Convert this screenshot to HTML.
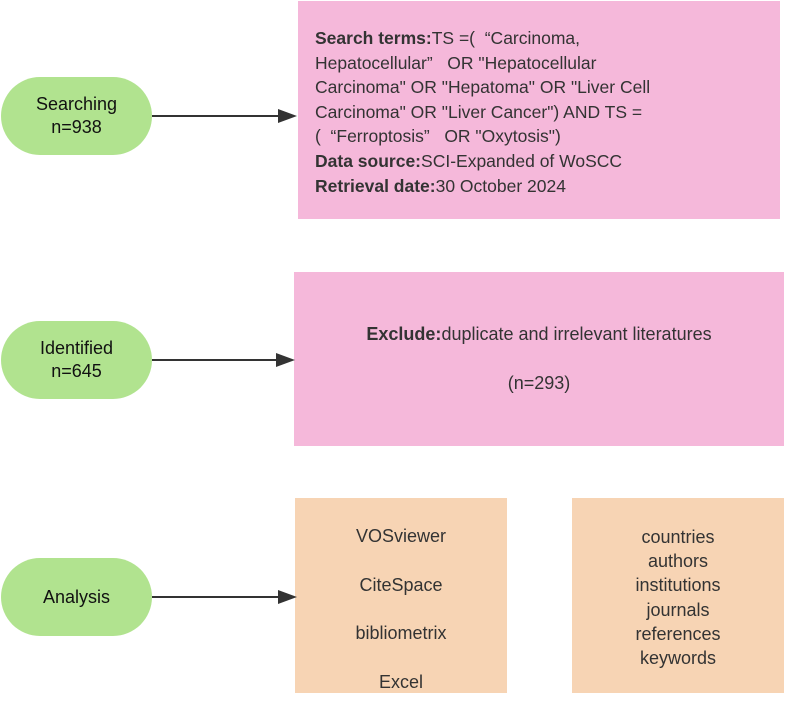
<!DOCTYPE html>
<html><head><meta charset="utf-8"><style>
body{margin:0;width:785px;height:695px;background:#fff;position:relative;overflow:hidden;font-family:"Liberation Sans","Noto Sans CJK SC",sans-serif;color:#333;}
.b{position:absolute;box-sizing:border-box;}
.pink{background:#f5b8da;}
.or{background:#f7d4b4;}
.pill{position:absolute;left:1px;width:151px;height:78px;background:#b1e38f;border-radius:39px;color:#111;font-size:18px;text-align:center;display:flex;align-items:center;justify-content:center;line-height:23px;}
.t{position:absolute;font-size:18px;white-space:nowrap;}
</style></head><body>
<div class="b pink" style="left:298px;top:1px;width:482px;height:218px;"></div>
<div class="t" style="left:315px;top:26px;line-height:24.6px;font-size:17.5px;">
<b>Search terms:</b>TS =(&nbsp; “Carcinoma,<br>Hepatocellular”&nbsp;&nbsp; OR "Hepatocellular<br>Carcinoma" OR "Hepatoma" OR "Liver Cell<br>Carcinoma" OR "Liver Cancer") AND TS =<br>(&nbsp; “Ferroptosis”&nbsp;&nbsp; OR "Oxytosis")<br><b>Data source:</b>SCI-Expanded of WoSCC<br><b>Retrieval date:</b>30 October 2024</div>
<div class="b pink" style="left:294px;top:272px;width:490px;height:174px;"></div>
<div class="t" style="left:294px;width:490px;text-align:center;top:324px;"><b>Exclude:</b>duplicate and irrelevant literatures</div>
<div class="t" style="left:294px;width:490px;text-align:center;top:373px;">(n=293)</div>
<div class="b or" style="left:295px;top:498px;width:212px;height:195px;"></div>
<div class="t" style="left:295px;width:212px;text-align:center;top:512px;line-height:48.7px;">VOSviewer<br>CiteSpace<br>bibliometrix<br>Excel</div>
<div class="b or" style="left:572px;top:498px;width:212px;height:195px;"></div>
<div class="t" style="left:572px;width:212px;text-align:center;top:525px;line-height:24.2px;">countries<br>authors<br>institutions<br>journals<br>references<br>keywords</div>
<div class="pill" style="top:77px;">Searching<br>n=938</div>
<div class="pill" style="top:321px;">Identified<br>n=645</div>
<div class="pill" style="top:558px;">Analysis</div>
<svg width="785" height="695" style="position:absolute;left:0;top:0">
<g stroke="#333" stroke-width="2"><line x1="152" y1="116" x2="282" y2="116"/><line x1="152" y1="360" x2="280" y2="360"/><line x1="152" y1="597" x2="282" y2="597"/></g>
<g fill="#333"><polygon points="278,109 297,116 278,123"/><polygon points="276,353 295,360 276,367"/><polygon points="278,590 297,597 278,604"/></g>
</svg>
</body></html>
